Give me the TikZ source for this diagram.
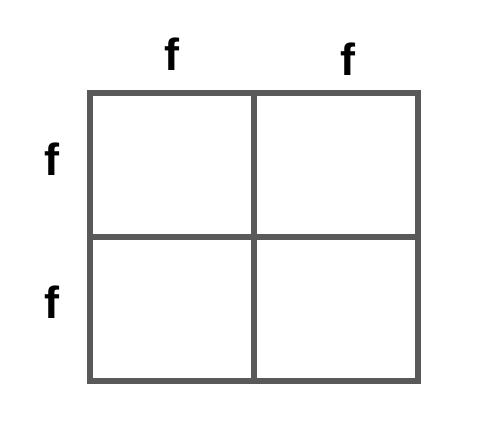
\documentclass[tikz,border=0pt]{standalone}
\usepackage{fontspec}
\setmainfont{Liberation Sans}
\definecolor{gridgray}{HTML}{595959}
\begin{document}
\begin{tikzpicture}[x=1pt,y=-1pt,
  gridline/.style={draw=gridgray,line width=6pt,line join=miter},
  allele/.style={inner sep=0pt,font=\fontsize{45}{45}\selectfont\bfseries}]
\useasboundingbox (0,0) rectangle (487,442);
\coordinate (tl) at (90.3,93);
\coordinate (tr) at (418,93);
\coordinate (bl) at (90.3,380.7);
\coordinate (br) at (418,380.7);
\coordinate (mt) at (253.7,93);
\coordinate (mb) at (253.7,380.7);
\coordinate (ml) at (90.3,237);
\coordinate (mr) at (418,237);
\draw[gridline] (tl) -- (tr) -- (br) -- (bl) -- cycle;
\draw[gridline] (mt) -- (mb);
\draw[gridline] (ml) -- (mr);
\node[allele] (c1) at (172,54.5) {f};
\node[allele] (c2) at (348,59) {f};
\node[allele] (r1) at (51.7,159) {f};
\node[allele] (r2) at (51.5,302.5) {f};
\end{tikzpicture}
\end{document}
